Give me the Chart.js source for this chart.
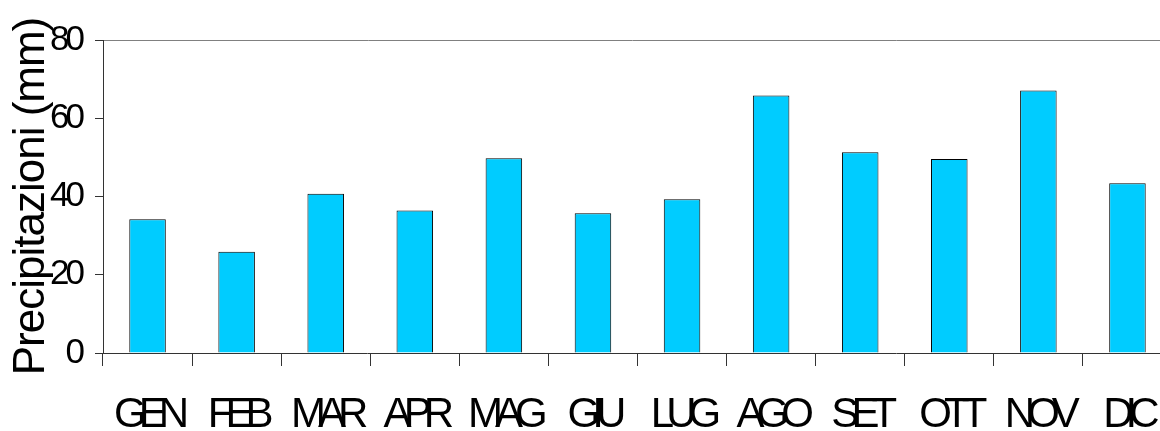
<!DOCTYPE html>
<html>
<head>
<meta charset="utf-8">
<script src="https://cdn.jsdelivr.net/npm/chart.js@4.4.1/dist/chart.umd.min.js"></script>
<style>
  html, body { margin: 0; padding: 0; background: #fff; overflow: hidden; }
</style>
</head>
<body>
<canvas id="myChart" width="1160" height="431"></canvas>
<script>
var mesi = ['GEN', 'FEB', 'MAR', 'APR', 'MAG', 'GIU', 'LUG', 'AGO', 'SET', 'OTT', 'NOV', 'DIC'];
var precipitazioni = [34.2, 25.9, 40.7, 36.4, 49.8, 35.7, 39.3, 65.8, 51.3, 49.6, 67.1, 43.4];
var yMin = 0, yMax = 80, yStep = 20;
var yTitle = 'Precipitazioni (mm)';

// canvas has no letter-spacing option in Chart.js, so squeeze text per scale
function squeeze(scale, labels, title) {
    if (scale._squeezed) return;
    scale._squeezed = true;
    var drawLabels = scale.drawLabels, drawTitle = scale.drawTitle;
    scale.drawLabels = function (a) {
        this.ctx.letterSpacing = labels;
        drawLabels.call(this, a);
        this.ctx.letterSpacing = '0px';
    };
    scale.drawTitle = function (a) {
        this.ctx.letterSpacing = title;
        drawTitle.call(this, a);
        this.ctx.letterSpacing = '0px';
    };
}

// the plot area runs a little past the right edge of the picture
var overflowRight = {
    id: 'overflowRight',
    afterLayout: function (chart) {
        var area = chart.chartArea, x = chart.scales.x;
        var extra = chart.width + 12 - x.right;
        area.right += extra;
        area.width += extra;
        x.right += extra;
        x.width += extra;
        x.configure();
    }
};

var ctx = document.getElementById('myChart');

var myChart = new Chart(ctx, {
    type: 'bar',
    data: {
        labels: mesi,
        datasets: [{
            data: precipitazioni,
            backgroundColor: '#00ccff',
            borderColor: '#000000',
            borderWidth: 1,
            barPercentage: 0.41,
            categoryPercentage: 1.0
        }]
    },
    plugins: [overflowRight],
    options: {
        responsive: false,
        devicePixelRatio: 1,
        animation: false,
        layout: { padding: { top: 40, left: 0, right: 0, bottom: 0 } },
        plugins: {
            legend: { display: false },
            tooltip: { enabled: false }
        },
        scales: {
            x: {
                offset: true,
                grid: {
                    offset: true,
                    drawOnChartArea: false,
                    tickLength: 13,
                    tickColor: '#333333'
                },
                border: { color: '#333333', width: 1 },
                ticks: {
                    color: '#000000',
                    padding: 24,
                    maxRotation: 0,
                    autoSkip: false,
                    font: { family: '"Liberation Sans", Arial, sans-serif', size: 42 }
                },
                afterFit: function (scale) {
                    scale.height = 78;
                    squeeze(scale, '-8px', '0px');
                }
            },
            y: {
                min: yMin,
                max: yMax,
                grid: {
                    color: function (c) { return c.tick && c.tick.value === yMax ? '#808080' : 'rgba(0,0,0,0)'; },
                    tickLength: 8,
                    tickColor: '#333333'
                },
                border: { color: '#333333', width: 1 },
                ticks: {
                    stepSize: yStep,
                    color: '#000000',
                    padding: 14,
                    font: { family: '"Liberation Sans", Arial, sans-serif', size: 35 }
                },
                title: {
                    display: true,
                    text: yTitle,
                    color: '#000000',
                    padding: { top: 5, bottom: 0 },
                    font: { family: '"Liberation Sans", Arial, sans-serif', size: 44 }
                },
                afterFit: function (scale) {
                    scale.width = 103;
                    squeeze(scale, '-4px', '-1px');
                }
            }
        }
    }
});
</script>
</body>
</html>
